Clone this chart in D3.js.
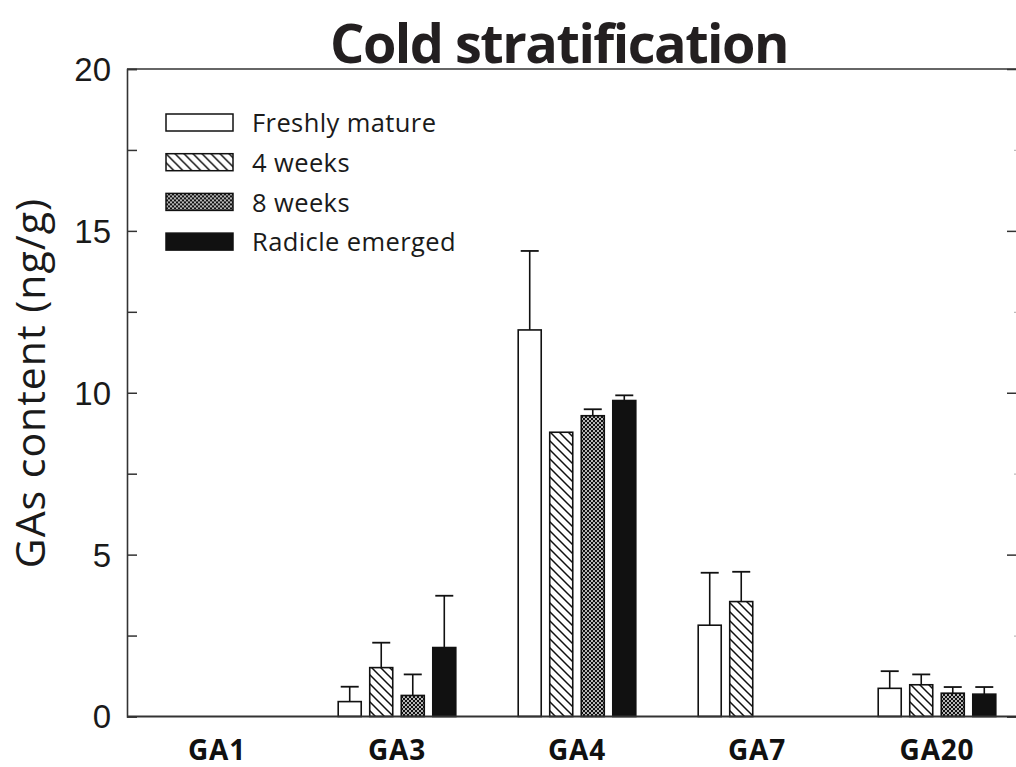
<!DOCTYPE html>
<html>
<head>
<meta charset="utf-8">
<script src="https://cdn.jsdelivr.net/npm/d3@7"></script>
<style>
  html, body { margin: 0; padding: 0; background: #fff; }
  svg { display: block; }
</style>
</head>
<body>
<svg id="chart" width="1016" height="767"></svg>
<script>
// Gibberellin contents under cold stratification
const categories = ["GA1", "GA3", "GA4", "GA7", "GA20"];
const seriesNames = ["Freshly mature", "4 weeks", "8 weeks", "Radicle emerged"];
const freshlyMature = [0, 0.46, 11.94, 2.82, 0.87];
const weeks4        = [0, 1.51, 8.78, 3.55, 0.98];
const weeks8        = [0, 0.65, 9.29, 0, 0.72];
const radicle       = [0, 2.13, 9.76, 0, 0.69];
const errFreshly    = [0, 0.46, 2.44, 1.62, 0.53];
const errWeeks4     = [0, 0.77, 0, 0.92, 0.32];
const errWeeks8     = [0, 0.65, 0.20, 0, 0.19];
const errRadicle    = [0, 1.60, 0.16, 0, 0.22];
const yTicks = [0, 5, 10, 15, 20];
const yMinorTicks = [2.5, 7.5, 12.5, 17.5];

const values = [freshlyMature, weeks4, weeks8, radicle];
const errors = [errFreshly, errWeeks4, errWeeks8, errRadicle];

const svg = d3.select("#chart");
const plotLeft = 127, plotRight = 1027, plotTop = 69, plotBottom = 716.5;
const ink = "#111";

const defs = svg.append("defs");
// diagonal hatch
const hatch = defs.append("pattern").attr("id", "hatch")
  .attr("patternUnits", "userSpaceOnUse").attr("width", 9).attr("height", 9);
hatch.append("rect").attr("width", 9).attr("height", 9).attr("fill", "#fff");
hatch.append("path").attr("d", "M0,0L9,9M-2,7L2,11M7,-2L11,2")
  .attr("stroke", ink).attr("stroke-width", 1.5);
// dotted checker
const dots = defs.append("pattern").attr("id", "dots")
  .attr("patternUnits", "userSpaceOnUse").attr("width", 4).attr("height", 4);
dots.append("rect").attr("width", 4).attr("height", 4).attr("fill", ink);
dots.append("circle").attr("cx", 1).attr("cy", 1).attr("r", 0.95).attr("fill", "#fff");
dots.append("circle").attr("cx", 3).attr("cy", 3).attr("r", 0.95).attr("fill", "#fff");

const fills = ["#fff", "url(#hatch)", "url(#dots)", ink];

const x0 = d3.scaleBand().domain(categories).range([plotLeft, plotRight]).padding(0);
const x1 = d3.scaleBand().domain(d3.range(seriesNames.length))
  .range([0, x0.bandwidth()]).paddingInner(0.27).paddingOuter(0.99);
const y = d3.scaleLinear().domain([0, 20]).range([plotBottom, plotTop]);

// title
svg.append("text").attr("x", 559).attr("y", 63).attr("text-anchor", "middle")
  .attr("font-family", "Open Sans").attr("font-weight", 700).attr("font-size", 54)
  .attr("letter-spacing", "-1.5px")
  .attr("fill", "#231f20").text("Cold stratification");

// y axis title
svg.append("text").attr("transform", "translate(45,383) rotate(-90)")
  .attr("text-anchor", "middle").attr("font-family", "Open Sans")
  .attr("font-size", 41).attr("letter-spacing", "1px")
  .attr("fill", "#1a1a1a").text("GAs content (ng/g)");

// bars
const groups = svg.append("g").selectAll("g").data(categories).join("g")
  .attr("transform", d => `translate(${x0(d)},0)`);

groups.each(function(cat, ci) {
  const g = d3.select(this);
  seriesNames.forEach((s, si) => {
    const v = values[si][ci];
    if (v <= 0) return;
    const bx = x1(si), bw = x1.bandwidth();
    const e = errors[si][ci];
    if (e > 0) {
      const cx = bx + bw / 2;
      g.append("line").attr("x1", cx).attr("x2", cx)
        .attr("y1", y(v)).attr("y2", y(v + e))
        .attr("stroke", ink).attr("stroke-width", 1.6);
      g.append("line").attr("x1", cx - 9).attr("x2", cx + 9)
        .attr("y1", y(v + e)).attr("y2", y(v + e))
        .attr("stroke", ink).attr("stroke-width", 1.8);
    }
    g.append("rect").attr("x", bx).attr("width", bw)
      .attr("y", y(v)).attr("height", y(0) - y(v))
      .attr("fill", fills[si]).attr("stroke", ink).attr("stroke-width", 1.6);
  });
});

// frame
svg.append("line").attr("x1", plotLeft).attr("x2", 1016).attr("y1", plotTop).attr("y2", plotTop)
  .attr("stroke", "#333").attr("stroke-width", 1.6);
svg.append("line").attr("x1", plotLeft).attr("x2", 1016).attr("y1", plotBottom).attr("y2", plotBottom)
  .attr("stroke", "#333").attr("stroke-width", 1.8);

// left axis with inward ticks
const yAxisL = svg.append("g").attr("transform", `translate(${plotLeft},0)`)
  .call(d3.axisRight(y).tickValues(yTicks).tickSize(10).tickFormat(""));
svg.append("g").attr("transform", `translate(${plotLeft},0)`)
  .call(d3.axisRight(y).tickValues(yMinorTicks).tickSize(10).tickFormat(""))
  .select(".domain").remove();
svg.selectAll(".tick line").attr("stroke", "#333").attr("stroke-width", 1.5);
yAxisL.select(".domain").attr("stroke", "#333").attr("stroke-width", 1.6);

// tick labels
svg.append("g").selectAll("text").data(yTicks).join("text")
  .attr("x", 111).attr("y", d => y(d)).attr("dy", "0.36em")
  .attr("text-anchor", "end").attr("font-family", "Liberation Sans")
  .attr("font-size", 33).attr("fill", "#1a1a1a").text(d => d);

// right axis (mostly beyond the edge)
const rAxisX = 1018;
svg.append("g").attr("transform", `translate(${rAxisX},0)`)
  .call(d3.axisLeft(y).tickValues(yTicks).tickSize(11).tickFormat(""))
  .call(g => g.selectAll(".tick line").attr("stroke", "#333").attr("stroke-width", 1.5));
svg.append("g").attr("transform", `translate(${rAxisX},0)`)
  .call(d3.axisLeft(y).tickValues(yMinorTicks).tickSize(4).tickFormat(""))
  .call(g => g.select(".domain").remove())
  .call(g => g.selectAll(".tick line").attr("stroke", "#bbb").attr("stroke-width", 1.2));

// category labels
svg.append("g").selectAll("text").data(categories).join("text")
  .attr("x", d => x0(d) + x0.bandwidth() / 2).attr("y", 760)
  .attr("text-anchor", "middle").attr("font-family", "Open Sans")
  .attr("font-weight", 700).attr("font-size", 28).attr("letter-spacing", "0.8px")
  .attr("fill", "#111")
  .text(d => d);

// legend
const legend = svg.append("g").attr("transform", "translate(166,114)");
seriesNames.forEach((s, i) => {
  const row = legend.append("g").attr("transform", `translate(0,${i * 39.7})`);
  row.append("rect").attr("width", 67).attr("height", 17)
    .attr("fill", fills[i]).attr("stroke", ink).attr("stroke-width", 1.5);
  row.append("text").attr("x", 86).attr("y", 9).attr("dy", "0.36em")
    .attr("font-family", "Open Sans").attr("font-size", 25.5).attr("letter-spacing", "0.4px")
    .attr("fill", "#1a1a1a")
    .text(s);
});
</script>
</body>
</html>
